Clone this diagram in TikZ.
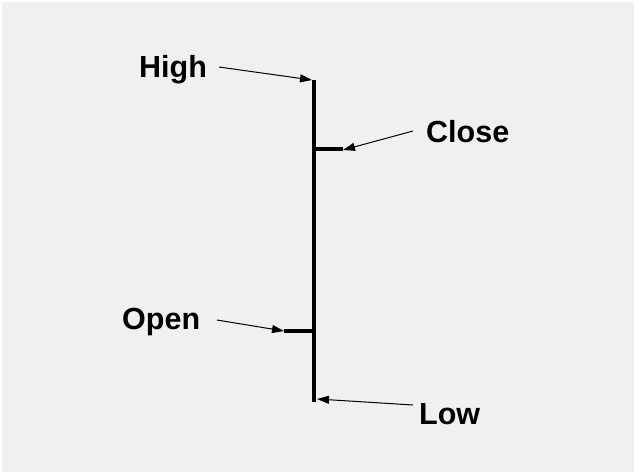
\documentclass[tikz,border=0pt]{standalone}
\usepackage{fontspec}
\setmainfont{Liberation Sans}
\usetikzlibrary{arrows.meta}
\definecolor{bg}{RGB}{240,240,240}
\begin{document}
\begin{tikzpicture}[x=1pt,y=-1pt,
  lbl/.style={anchor=base west,inner sep=0pt,font=\fontsize{30.5}{33}\selectfont\bfseries},
  bar/.style={line width=3.4pt},
  arr/.style={line width=1pt,-{Triangle[length=12pt,width=8pt]}}]
\fill[white] (0,0) rectangle (636,475);
\fill[bg] (2,2) rectangle (634,472);
\useasboundingbox (0,0) rectangle (636,475);
% price bar
\coordinate (top) at (314,80);
\coordinate (bot) at (314,402);
\coordinate (cl) at (314,149);
\coordinate (clend) at (343,149);
\coordinate (op) at (314,331);
\coordinate (opend) at (284,331);
\draw[bar] (top) -- (bot);
\draw[bar] (cl) -- (clend);
\draw[bar] (op) -- (opend);
% labels
\node[lbl] (high) at (139,77) {High};
\node[lbl] (close) at (426,142) {Close};
\node[lbl] (open) at (122,329) {Open};
\node[lbl] (low) at (419,424) {Low};
% arrow tails
\coordinate (hs) at (219,67);
\coordinate (cs) at (413,131);
\coordinate (os) at (217,320);
\coordinate (ls) at (413,405);
\coordinate (ht) at (312,80);
\coordinate (ct) at (343,150);
\coordinate (ot) at (284,331);
\coordinate (lt) at (317,399);
\draw[arr] (hs) -- (ht);
\draw[arr] (cs) -- (ct);
\draw[arr] (os) -- (ot);
\draw[arr] (ls) -- (lt);
\end{tikzpicture}
\end{document}
